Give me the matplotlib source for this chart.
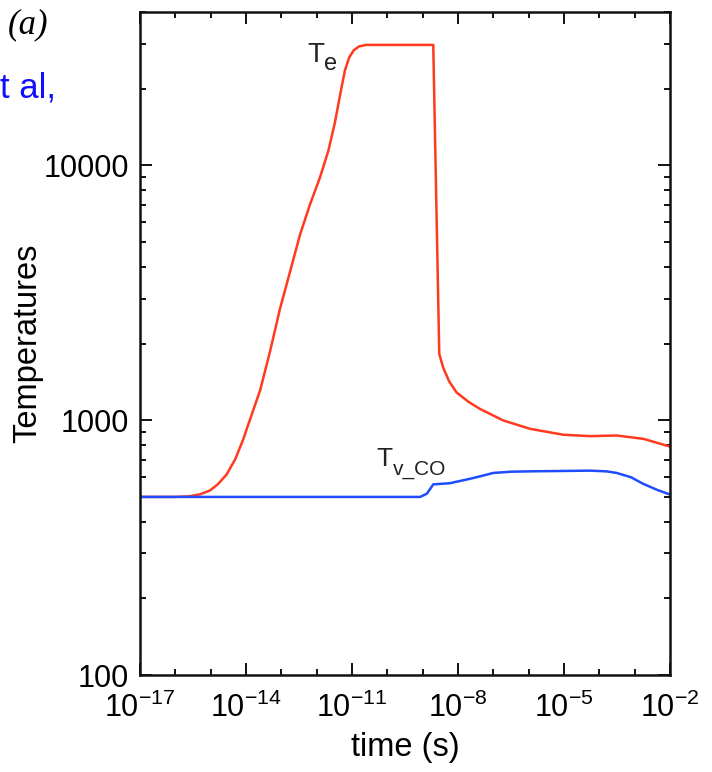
import matplotlib
matplotlib.use("Agg")
import matplotlib.pyplot as plt
from matplotlib.ticker import FixedLocator, LogLocator, FuncFormatter, NullFormatter

plt.rcParams['font.family'] = ['Liberation Sans', 'DejaVu Sans']
plt.rcParams['mathtext.fontset'] = 'custom'
plt.rcParams['mathtext.rm'] = 'Liberation Sans'
plt.rcParams['mathtext.it'] = 'Liberation Sans:italic'
plt.rcParams['mathtext.bf'] = 'Liberation Sans:bold'

# electron temperature T_e (K) vs time (s)
te_time = [1e-17, 1e-16, 10**-15.6, 10**-15.3, 10**-15.02, 10**-14.8, 10**-14.55,
           10**-14.3, 10**-14.08, 10**-13.85, 10**-13.6, 10**-13.32, 10**-13.04,
           10**-12.75, 10**-12.47, 10**-12.19, 10**-11.91, 10**-11.67, 10**-11.48,
           10**-11.34, 10**-11.2, 10**-11.08, 10**-10.95, 10**-10.8, 10**-10.6,
           10**-8.70, 10**-8.53, 10**-8.42, 10**-8.25, 10**-8.04, 10**-7.7,
           10**-7.38, 10**-6.72, 10**-5.96, 10**-5.02, 10**-4.26, 10**-3.51,
           10**-2.75, 1e-2]
te_vals = [500, 500, 503, 512, 530, 560, 612,
           705, 840, 1040, 1310, 1860, 2730,
           3840, 5350, 7020, 8930, 11400, 14800,
           18800, 23600, 26500, 28300, 29300, 29700,
           29700, 1820, 1610, 1420, 1285, 1180,
           1108, 998, 925, 877, 866, 871,
           845, 788]

# CO vibrational temperature T_v_CO (K) vs time (s)
tv_time = [1e-17, 1e-14, 1e-11, 10**-9.07, 10**-8.88, 10**-8.70, 10**-8.23,
           10**-7.66, 10**-7.3, 10**-7.0, 10**-6.5, 10**-5.96, 10**-4.26,
           10**-3.8, 10**-3.51, 10**-3.1, 10**-2.75, 10**-2.35, 1e-2]
tv_vals = [500, 500, 500, 500, 515, 560, 566,
           589, 606, 621, 628, 630, 634,
           630, 621, 597, 562, 532, 511]

x_major = [1e-17, 1e-14, 1e-11, 1e-8, 1e-5, 1e-2]
y_major = [100, 1000, 10000]

fig = plt.figure(figsize=(7.12, 7.72), dpi=100)
ax = fig.add_axes([0.1966, 0.1256, 0.941 - 0.1966, 0.9845 - 0.1256])

ax.plot(te_time, te_vals, color='#ff3a1e', lw=1.8)
ax.plot(tv_time, tv_vals, color='#1f4cff', lw=1.8)

ax.set_xscale('log')
ax.set_yscale('log')
ax.set_xlim(1e-17, 1e-2)
ax.set_ylim(100, 4e4)

ax.xaxis.set_major_locator(FixedLocator(x_major))
ax.xaxis.set_minor_locator(LogLocator(base=10, subs=(1.0,), numticks=40))
ax.xaxis.set_minor_formatter(NullFormatter())
ax.yaxis.set_major_locator(FixedLocator(y_major))
ax.yaxis.set_major_formatter(FuncFormatter(lambda v, p: '%d' % v))
ax.yaxis.set_minor_locator(LogLocator(base=10, subs=range(2, 10), numticks=40))
ax.yaxis.set_minor_formatter(NullFormatter())

ax.tick_params(which='both', direction='in', top=True, right=True, width=1.4,
               color='#111111', labelcolor='black')
ax.tick_params(which='major', length=8.5, labelsize=22)
ax.tick_params(axis='x', which='major', pad=13)
ax.tick_params(axis='y', which='major', pad=8)
ax.tick_params(which='minor', length=4.5)
for s in ax.spines.values():
    s.set_linewidth(1.8)
    s.set_color('#111111')

ax.set_xlabel('time (s)', fontsize=23.5, va='center')
ax.set_ylabel('Temperatures', fontsize=23.5, va='center')
ax.xaxis.set_label_coords(0.5, -0.110)
ax.yaxis.set_label_coords(-0.211, 0.5)

# curve labels
ax.text(10**-12.27, 10**4.407, 'T', fontsize=20, color='#222222', va='baseline', ha='left')
ax.annotate('e', xy=(10**-12.27, 10**4.407), xytext=(12.5, -6), textcoords='offset points',
            fontsize=17, color='#222222', va='baseline', ha='left')
ax.text(10**-10.3, 10**2.82, 'T', fontsize=19, color='#222222', va='baseline', ha='left')
ax.annotate('v_CO', xy=(10**-10.3, 10**2.82), xytext=(12, -6), textcoords='offset points',
            fontsize=15, color='#222222', va='baseline', ha='left')

fig.text(8 / 712, 1 - 25 / 772, '(a)', fontsize=25, family='Liberation Serif',
         style='italic', va='center', ha='left')
fig.text(0.5 / 712, 1 - 98 / 772, 't al,', fontsize=25, color='#1010ff',
         va='baseline', ha='left')

fig.savefig('out.png', dpi=100)
